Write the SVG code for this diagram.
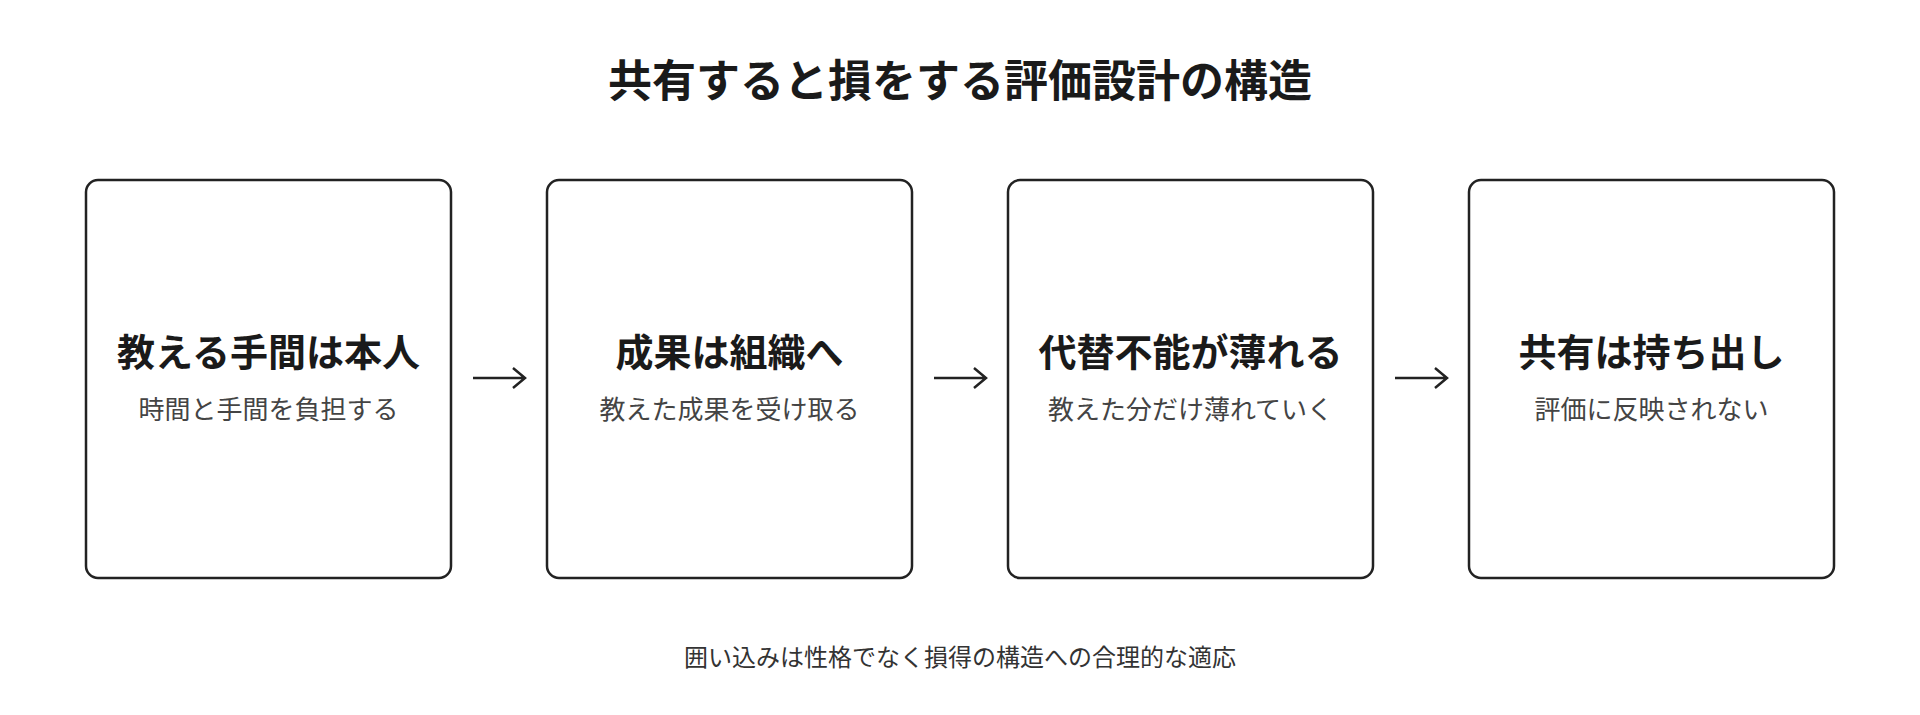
<svg xmlns="http://www.w3.org/2000/svg" width="1920" height="715" viewBox="0 0 1920 715">
<style>
text{font-family:"Noto Sans CJK JP","Noto Sans",sans-serif;text-anchor:middle}
.t{font-size:44px;font-weight:700;fill:#1a1a1a}
.b{fill:#fff;stroke:#222;stroke-width:2.5}
.h{font-size:38px;font-weight:700;fill:#1a1a1a}
.s{font-size:26px;fill:#444}
.f{font-size:24px;fill:#333}
.c{stroke:#222;stroke-width:2.5;fill:none}
</style>
<rect width="1920" height="715" fill="#fff"/>
<text class="t" x="960" y="97">共有すると損をする評価設計の構造</text>
<g id="n1"><rect class="b" x="86" y="180" width="365" height="398" rx="12"/><text class="h" x="268.5" y="366">教える手間は本人</text><text class="s" x="268.5" y="419">時間と手間を負担する</text></g>
<g id="n2"><rect class="b" x="547" y="180" width="365" height="398" rx="12"/><text class="h" x="729.5" y="366">成果は組織へ</text><text class="s" x="729.5" y="419">教えた成果を受け取る</text></g>
<g id="n3"><rect class="b" x="1008" y="180" width="365" height="398" rx="12"/><text class="h" x="1190.5" y="366">代替不能が薄れる</text><text class="s" x="1190.5" y="419">教えた分だけ薄れていく</text></g>
<g id="n4"><rect class="b" x="1469" y="180" width="365" height="398" rx="12"/><text class="h" x="1651.5" y="366">共有は持ち出し</text><text class="s" x="1651.5" y="419">評価に反映されない</text></g>
<g id="connectors">
<path class="c" d="M473 378H525M513 368L525 378L513 388"/>
<path class="c" d="M934 378H986M974 368L986 378L974 388"/>
<path class="c" d="M1395 378H1447M1435 368L1447 378L1435 388"/>
</g>
<text class="f" x="960" y="666">囲い込みは性格でなく損得の構造への合理的な適応</text>
</svg>
